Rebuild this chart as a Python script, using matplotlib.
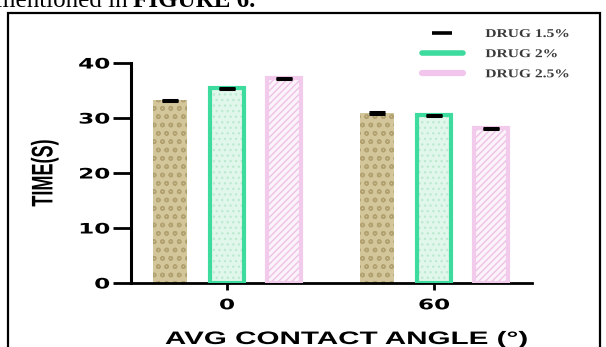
import matplotlib
matplotlib.use('Agg')
import matplotlib.pyplot as plt
import matplotlib.patheffects as pe
from matplotlib.transforms import Affine2D
from matplotlib.lines import Line2D
from matplotlib.patches import Rectangle
from matplotlib.font_manager import FontProperties
import numpy as np

# ---------------- data ----------------
categories = ['0', '60']
series_names = ['DRUG 1.5%', 'DRUG 2%', 'DRUG 2.5%']
drug_1_5 = [33.2, 30.9]
drug_2 = [35.4, 30.5]
drug_2_5 = [37.2, 28.1]
err_1_5 = [0.15, 0.12]
err_2 = [0.12, 0.12]
err_2_5 = [0.12, 0.12]
yticks = [0, 10, 20, 30, 40]
x_label = 'AVG CONTACT ANGLE (°)'
y_label = 'TIME(S)'


class StretchX(pe.AbstractPathEffect):
    """Draw text stretched horizontally about a display x position."""
    def __init__(self, sx, cx):
        super().__init__()
        self.sx = sx
        self.cx = cx

    def draw_path(self, renderer, gc, tpath, affine, rgbFace=None):
        t = affine + Affine2D().translate(-self.cx, 0).scale(self.sx, 1).translate(self.cx, 0)
        renderer.draw_path(gc, tpath, t, rgbFace)


W, H = 606, 347
fig = plt.figure(figsize=(W / 100, H / 100), dpi=100)
fig.patch.set_facecolor('white')

ax_left, ax_right, ax_bot, ax_top = 131, 532, 283, 63
ax = fig.add_axes([ax_left / W, (H - ax_bot) / H, (ax_right - ax_left) / W, (ax_bot - ax_top) / H])

x = np.arange(len(categories))
off = 0.2754
bw = 0.16

# DRUG 1.5% : tan with dotted pattern
ax.bar(x - off, drug_1_5, bw, color='#D3C69B', edgecolor='#B3A271', linewidth=0, hatch='oo', zorder=2)
# DRUG 2% : light green fill, green border
ax.bar(x, drug_2, bw, color='#E2F7EB', edgecolor='#BDEBD2', linewidth=0, hatch='...', zorder=2)
ax.bar(x, drug_2, bw, color='none', edgecolor='#3EDB9F', linewidth=3, zorder=3)
# DRUG 2.5% : pink diagonal hatch, pink border
ax.bar(x + off, drug_2_5, bw, color='#FCF3FA', edgecolor='#EDC2E6', linewidth=0, hatch='/////', zorder=2)
ax.bar(x + off, drug_2_5, bw, color='none', edgecolor='#F2CBEC', linewidth=3, zorder=3)

for dx, vals, errs in [(-off, drug_1_5, err_1_5), (0, drug_2, err_2), (off, drug_2_5, err_2_5)]:
    ax.errorbar(x + dx, vals, yerr=errs, fmt='none', ecolor='black', elinewidth=2,
                capsize=6, capthick=2.2, zorder=4)

ax.set_xlim(-(227 - ax_left) / 207, 1 + (ax_right - 434) / 207)
ax.set_ylim(0, 40)
ax.set_yticks(yticks)
ax.set_yticklabels([str(v) for v in yticks])
ax.set_xticks(x)
ax.set_xticklabels(categories)

for s in ['top', 'right']:
    ax.spines[s].set_visible(False)
ax.spines['left'].set_linewidth(2.2)
ax.spines['bottom'].set_linewidth(2.0)
ax.tick_params(axis='y', length=13, width=2, pad=2, direction='out')
ax.tick_params(axis='x', length=5, width=2, pad=6, direction='out')

for lab in ax.get_yticklabels() + ax.get_xticklabels():
    lab.set_fontfamily('DejaVu Sans')
    lab.set_fontweight('bold')
    lab.set_fontsize(10.4)

ax.set_xlabel(x_label, family='Liberation Sans', weight='bold', fontsize=13)
ax.xaxis.set_label_coords((346 - ax_left) / (ax_right - ax_left), (H - 331 - (H - ax_bot)) / (ax_bot - ax_top))
ax.set_ylabel(y_label, family=['Liberation Sans Narrow', 'Liberation Sans'], weight='bold', fontsize=13, va='center')
ax.yaxis.set_label_coords((45 - ax_left) / (ax_right - ax_left), (ax_bot - 173) / (ax_bot - ax_top))

# legend
handles = [
    Line2D([], [], color='black', marker='_', markersize=14, markeredgewidth=2.6, linestyle='None'),
    Line2D([], [], color='#3EDB9F', lw=4, solid_capstyle='round'),
    Line2D([], [], color='#F2C6EC', lw=4.5, solid_capstyle='round'),
]
leg = fig.legend(handles, series_names, loc='upper left', bbox_to_anchor=(422 / W, 1 - 28 / H),
                 bbox_transform=fig.transFigure, frameon=False,
                 prop=FontProperties(family='Liberation Serif', weight='bold', size=8.6),
                 labelcolor='#3a3a3a', handlelength=3.4, handletextpad=1.9, labelspacing=0.68,
                 borderpad=0, borderaxespad=0)

# document text fragment and frame
fig.text(-4 / W, (H - 7) / H, 'mentioned in ', family='Liberation Serif', fontsize=18, va='baseline', ha='left')
fig.text(133 / W, (H - 7) / H, 'FIGURE 6.', family='Liberation Serif', weight='bold', fontsize=18,
         va='baseline', ha='left')
fig.add_artist(Rectangle((8 / W, -0.1), 592 / W, (H - 13) / H + 0.1, transform=fig.transFigure,
                         fill=False, ec='black', lw=1.6, clip_on=False))

# horizontal stretching of the chart's text (reference image is stretched)
fig.canvas.draw()
renderer = fig.canvas.get_renderer()


def stretch(t, sx, anchor='center'):
    bb = t.get_window_extent(renderer)
    cx = {'left': bb.x0, 'right': bb.x1, 'center': 0.5 * (bb.x0 + bb.x1)}[anchor]
    t.set_path_effects([StretchX(sx, cx)])


for lab in ax.get_yticklabels():
    stretch(lab, 1.6, 'right')
for lab in ax.get_xticklabels():
    stretch(lab, 1.6, 'center')
stretch(ax.xaxis.label, 1.64, 'center')
stretch(ax.yaxis.label, 1.65, 'center')
for t in leg.get_texts():
    stretch(t, 1.3, 'left')

fig.savefig('out.png', dpi=100)
